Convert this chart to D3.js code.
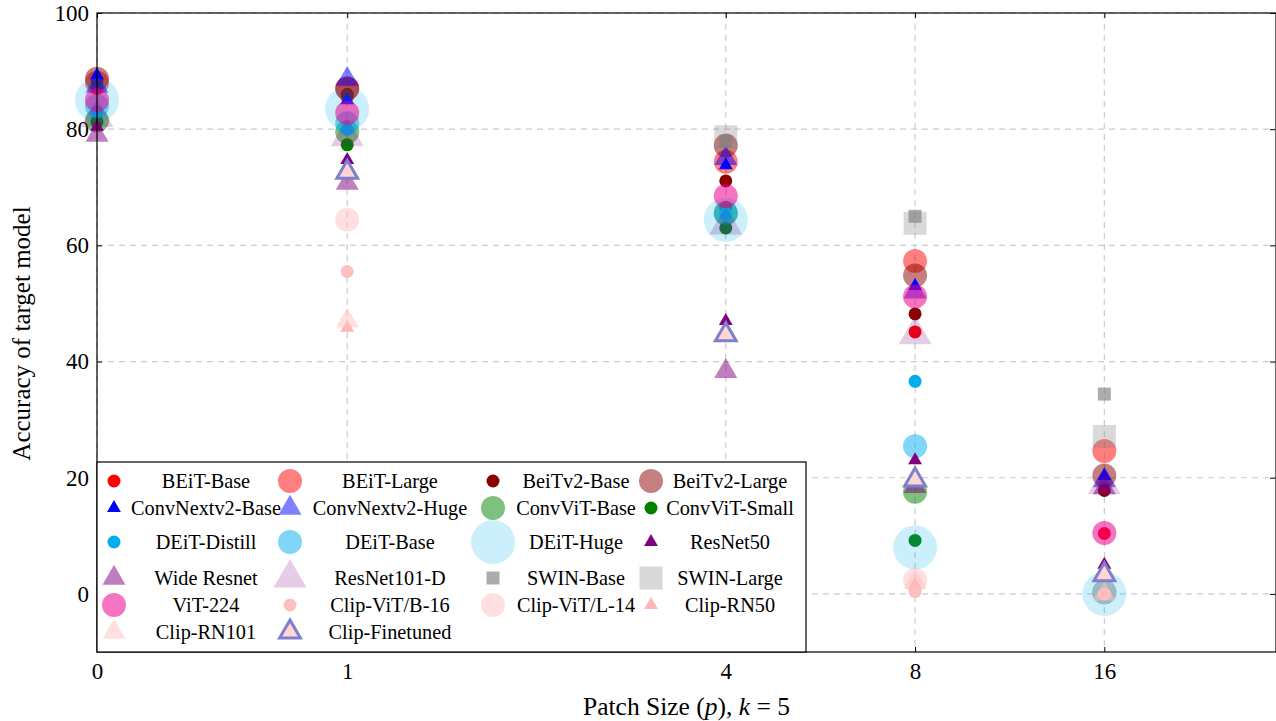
<!DOCTYPE html>
<html><head><meta charset="utf-8">
<script src="https://cdn.jsdelivr.net/npm/d3@7"></script>
<style>
html,body{margin:0;padding:0;background:#fff;}
svg{display:block;font-family:"Liberation Serif","Times New Roman",serif;}
</style></head>
<body><svg id="chart" width="1276" height="721"></svg>
<script>
// ---------- data ----------
const patchSizes = [0, 1, 4, 8, 16];
const xTickLabels = ["0", "1", "4", "8", "16"];
const yTickValues = [0, 20, 40, 60, 80, 100];

const seriesNames = ["BEiT-Base","BEiT-Large","BeiTv2-Base","BeiTv2-Large",
  "ConvNextv2-Base","ConvNextv2-Huge","ConvViT-Base","ConvViT-Small",
  "DEiT-Distill","DEiT-Base","DEiT-Huge","ResNet50",
  "Wide Resnet","ResNet101-D","SWIN-Base","SWIN-Large",
  "ViT-224","Clip-ViT/B-16","Clip-ViT/L-14","Clip-RN50",
  "Clip-RN101","Clip-Finetuned"];

const beitBase       = [87.0, 85.5, 66.5, 45.1, 10.4];
const beitLarge      = [88.0, 87.0, 74.4, 57.3, 24.6];
const beitv2Base     = [88.3, 86.0, 71.1, 48.2, 17.8];
const beitv2Large    = [88.7, 87.0, 77.2, 54.8, 20.4];
const convnextBase   = [89.3, 85.0, 73.8, 53.0, 20.3];
const convnextHuge   = [87.4, 88.6, 75.0, 52.0, 19.5];
const convvitBase    = [81.5, 79.5, 65.5, 17.6, 0.3];
const convvitSmall   = [81.3, 77.3, 63.0, 9.2, 0.2];
const deitDistill    = [83.0, 80.0, 65.4, 36.6, 0.0];
const deitBase       = [84.0, 81.0, 65.6, 25.4, 0.3];
const deitHuge       = [85.0, 83.5, 64.4, 8.0, 0.0];
const resnet50       = [80.4, 74.7, 47.0, 23.0, 5.0];
const wideResnet     = [79.0, 70.7, 38.3, 18.5, 18.3];
const resnet101d     = [82.0, 78.7, 63.5, 44.6, 18.8];
const swinBase       = [null, null, 77.9, 65.0, 34.4];
const swinLarge      = [null, null, 78.7, 63.8, 27.1];
const vit224         = [85.0, 82.8, 68.5, 51.2, 10.5];
const clipVitB16     = [null, 55.5, null, 0.4, 0.0];
const clipVitL14     = [null, 64.4, null, 2.4, 0.3];
const clipRn50       = [null, 45.8, null, 1.5, 0.0];
const clipRn101      = [null, 47.0, null, 2.0, 0.0];
const clipFinetuned  = [null, 72.6, 44.6, 19.6, 3.3];

const seriesValues = [beitBase, beitLarge, beitv2Base, beitv2Large,
  convnextBase, convnextHuge, convvitBase, convvitSmall,
  deitDistill, deitBase, deitHuge, resnet50,
  wideResnet, resnet101d, swinBase, swinLarge,
  vit224, clipVitB16, clipVitL14, clipRn50,
  clipRn101, clipFinetuned];

// ---------- styles ----------
const RED="#ff0000", DRED="#8b0000", BLUE="#0000ff", GREEN="#008000", CYAN="#00aeef",
      PURPLE="#800080", GRAY="#808080", MAG="#ec008c", PINK="#ffbfbf";
const styles = [
  {shape:"circle", size:6.5, fill:RED, op:1},
  {shape:"circle", size:12, fill:RED, op:0.5},
  {shape:"circle", size:6.5, fill:DRED, op:1},
  {shape:"circle", size:12, fill:DRED, op:0.5},
  {shape:"triangle", size:8, fill:BLUE, op:1},
  {shape:"triangle", size:13.3, fill:BLUE, op:0.5},
  {shape:"circle", size:12, fill:GREEN, op:0.5},
  {shape:"circle", size:6.5, fill:GREEN, op:1},
  {shape:"circle", size:6.5, fill:CYAN, op:1},
  {shape:"circle", size:12, fill:CYAN, op:0.5},
  {shape:"circle", size:22, fill:CYAN, op:0.2},
  {shape:"triangle", size:8, fill:PURPLE, op:1},
  {shape:"triangle", size:13.3, fill:PURPLE, op:0.5},
  {shape:"triangle", size:19, fill:PURPLE, op:0.2},
  {shape:"square", size:6.5, fill:GRAY, op:0.65},
  {shape:"square", size:11.5, fill:GRAY, op:0.3},
  {shape:"circle", size:12, fill:MAG, op:0.55},
  {shape:"circle", size:6.5, fill:PINK, op:1},
  {shape:"circle", size:12, fill:PINK, op:0.5},
  {shape:"triangle", size:8, fill:"#ffb6b6", op:1},
  {shape:"triangle", size:13.3, fill:PINK, op:0.5},
  {shape:"triangle", size:12, fill:"#ffd6d6", op:1, stroke:"#7f7fcc", sw:3}
];

// ---------- layout ----------
const svg = d3.select("#chart");
const L = 97, R = 1276, T = 13, B = 652;
const x = d3.scaleLog().base(2).domain([0.4, 30]).range([L, R]);
const xPos = v => x(v === 0 ? 0.4 : v);
const y = d3.scaleLinear().domain([-10, 100]).range([B, T]);

// grid
const grid = svg.append("g").attr("stroke", "#cccccc").attr("stroke-width", 1.2).attr("stroke-dasharray", "6,5");
patchSizes.forEach(p => {
  grid.append("line").attr("x1", xPos(p)).attr("x2", xPos(p)).attr("y1", T).attr("y2", B);
});
yTickValues.forEach(v => {
  grid.append("line").attr("x1", L).attr("x2", R).attr("y1", y(v)).attr("y2", y(v));
});

// axes
const fontTick = 23;
const yAxis = svg.append("g").attr("transform", `translate(${L},0)`)
  .call(d3.axisLeft(y).tickValues(yTickValues).tickSize(-5).tickPadding(8));
const yAxisR = svg.append("g").attr("transform", `translate(${R-1},0)`)
  .call(d3.axisRight(y).tickValues(yTickValues).tickSize(-5).tickFormat(""));
const xAxis = svg.append("g").attr("transform", `translate(0,${B})`)
  .call(d3.axisBottom(x).tickValues(patchSizes.map(p => p === 0 ? 0.4 : p))
    .tickFormat((d, i) => xTickLabels[i]).tickSize(-5).tickPadding(11));
const xAxisT = svg.append("g").attr("transform", `translate(0,${T})`)
  .call(d3.axisTop(x).tickValues(patchSizes.map(p => p === 0 ? 0.4 : p)).tickFormat("").tickSize(-5));
[yAxis, yAxisR, xAxis, xAxisT].forEach(g => {
  g.select(".domain").remove();
  g.selectAll("text").attr("font-family", "Liberation Serif").attr("font-size", fontTick).attr("fill", "#000");
  g.selectAll("line").attr("stroke", "#000");
});

function drawMarker(g, st, cx, cy) {
  let el;
  if (st.shape === "circle") {
    el = g.append("circle").attr("cx", cx).attr("cy", cy).attr("r", st.size);
  } else if (st.shape === "square") {
    el = g.append("rect").attr("x", cx - st.size).attr("y", cy - st.size)
      .attr("width", 2 * st.size).attr("height", 2 * st.size);
  } else {
    const r = st.size;
    const pts = [[cx, cy - r], [cx - 0.866 * r, cy + 0.5 * r], [cx + 0.866 * r, cy + 0.5 * r]];
    el = g.append("path").attr("d", "M" + pts.map(p => p.join(",")).join("L") + "Z");
  }
  el.attr("fill", st.fill).attr("fill-opacity", st.op);
  if (st.stroke) el.attr("stroke", st.stroke).attr("stroke-width", st.sw).attr("stroke-linejoin", "miter");
  return el;
}

// points
const plot = svg.append("g");
seriesValues.forEach((vals, si) => {
  const g = plot.append("g").attr("class", "series").attr("data-name", seriesNames[si]);
  vals.forEach((v, i) => {
    if (v === null) return;
    drawMarker(g, styles[si], xPos(patchSizes[i]), y(v));
  });
});

// frame
svg.append("rect").attr("x", L).attr("y", T).attr("width", R - L).attr("height", B - T)
  .attr("fill", "none").attr("stroke", "#000").attr("stroke-width", 1.2);

// axis titles
svg.append("text").attr("x", (L + R) / 2).attr("y", 715).attr("text-anchor", "middle")
  .attr("font-size", 25.5)
  .html('Patch Size (<tspan font-style="italic">p</tspan>), <tspan font-style="italic">k</tspan> = 5');
svg.append("text").attr("transform", `translate(30,${(T + B) / 2 + 1}) rotate(-90)`)
  .attr("text-anchor", "middle").attr("font-size", 25).text("Accuracy of target model");

// legend
const lg = svg.append("g");
lg.append("rect").attr("x", L).attr("y", 462).attr("width", 709).attr("height", B - 462)
  .attr("fill", "#fff").attr("stroke", "#000").attr("stroke-width", 1.2);
const colMarkerX = [114, 290, 493, 651];
const colTextX = [206, 390, 576, 730];
const rowY = [481, 508, 542, 578, 605, 632];
seriesNames.forEach((name, i) => {
  const r = Math.floor(i / 4), c = i % 4;
  drawMarker(lg, styles[i], colMarkerX[c], rowY[r]);
  lg.append("text").attr("x", colTextX[c]).attr("y", rowY[r]).attr("dy", "0.35em")
    .attr("text-anchor", "middle").attr("font-size", 20.3).text(name);
});
</script></body></html>
